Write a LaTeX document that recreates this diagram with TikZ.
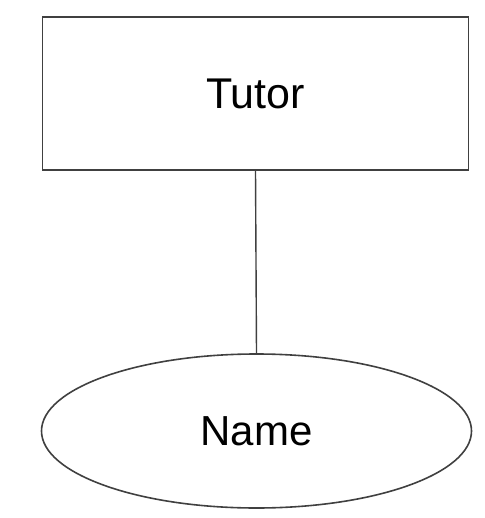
\documentclass[tikz,border=0pt]{standalone}
\usepackage{fontspec}
\setmainfont{Liberation Sans}
\usetikzlibrary{shapes.geometric}
\begin{document}
\begin{tikzpicture}[x=1pt,y=-1pt,
  shapeline/.style={draw=black!75,line width=1.6pt},
  entitybox/.style={shapeline,rectangle,inner sep=0pt,minimum width=426pt,minimum height=153pt,font=\fontsize{43}{50}\selectfont},
  attrbox/.style={shapeline,ellipse,inner sep=0pt,minimum width=430pt,minimum height=154pt,font=\fontsize{42}{50}\selectfont}]
\useasboundingbox (0,0) rectangle (484,518);
\node[entitybox] (tutor) at (255.5,93.5) {Tutor};
\node[attrbox] (name) at (256.5,431) {Name};
\draw[draw=black!75,line width=1.4pt] (tutor.south) -- (name.north);
\end{tikzpicture}
\end{document}
